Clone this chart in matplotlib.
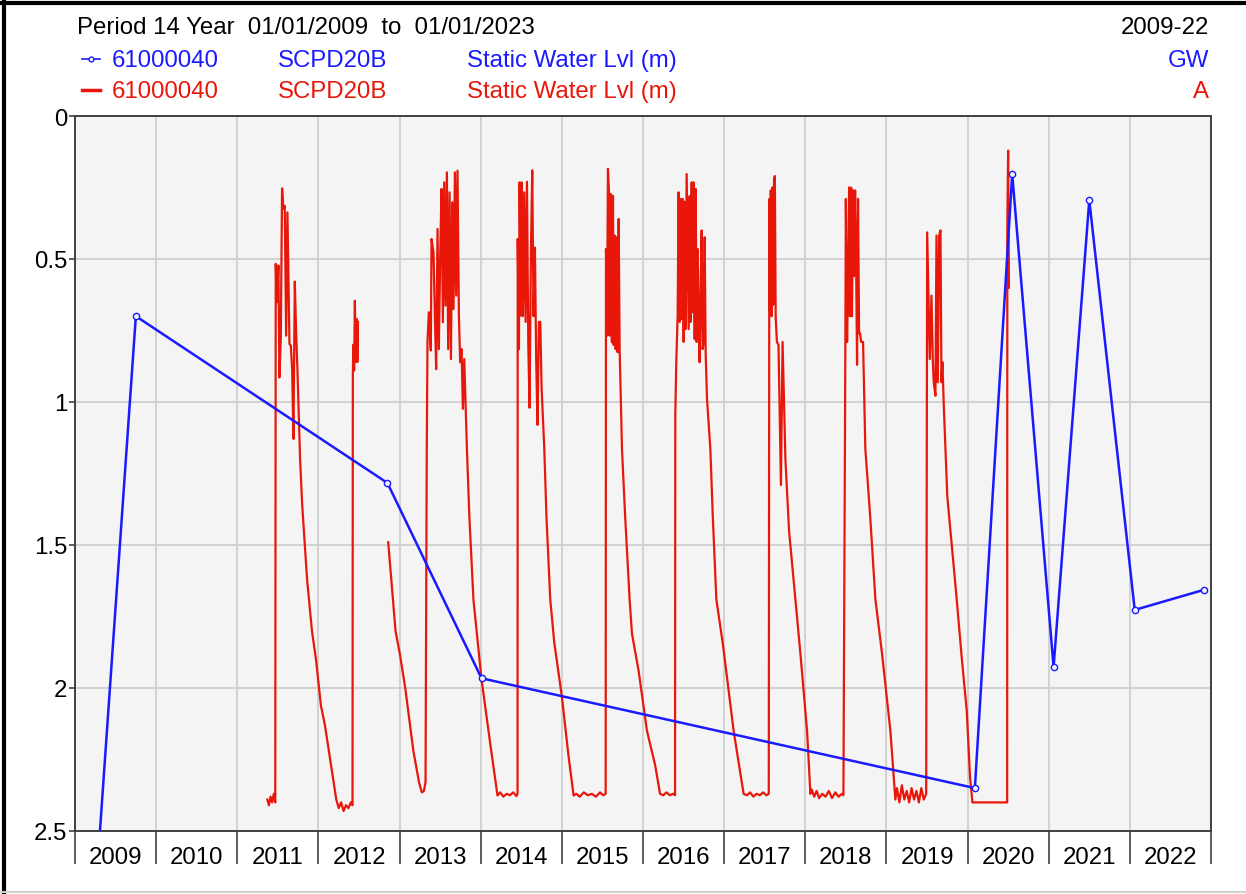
import numpy as np
import matplotlib.pyplot as plt
from matplotlib.lines import Line2D

plt.rcParams['font.family'] = ['Liberation Sans', 'DejaVu Sans']

#%% data (decimal year, depth below ground in m)
# manual readings - blue series
blue_t = [2009.278, 2009.75, 2012.85, 2014.01, 2020.09, 2020.55, 2021.06, 2021.50, 2022.06, 2022.91]
blue_v = [2.62, 0.70, 1.283, 1.966, 2.35, 0.203, 1.927, 0.294, 1.727, 1.657]

# logger - red series, one list per season
red_2011 = [(2011.37, 2.39), (2011.39, 2.41), (2011.41, 2.38), (2011.43, 2.40), (2011.45, 2.37), (2011.468, 2.40),
            (2011.474, 0.517), (2011.487, 0.651), (2011.507, 0.523), (2011.519, 0.914), (2011.536, 0.78),
            (2011.552, 0.253), (2011.568, 0.325), (2011.585, 0.314), (2011.602, 0.768), (2011.618, 0.337),
            (2011.643, 0.797), (2011.66, 0.803), (2011.676, 0.885), (2011.692, 1.129), (2011.709, 0.579),
            (2011.725, 0.756), (2011.741, 0.885), (2011.774, 1.20),
            (2011.80, 1.36), (2011.86, 1.62), (2011.92, 1.80), (2011.97, 1.90), (2012.03, 2.06), (2012.08, 2.13),
            (2012.15, 2.26), (2012.22, 2.39), (2012.25, 2.42), (2012.28, 2.40), (2012.31, 2.43), (2012.34, 2.41),
            (2012.37, 2.42), (2012.40, 2.40), (2012.42, 2.41),
            (2012.424, 0.908), (2012.43, 0.80), (2012.44, 0.89), (2012.449, 0.646), (2012.46, 0.86),
            (2012.473, 0.71), (2012.48, 0.86), (2012.487, 0.72)]

red_2013 = [(2012.86, 1.49), (2012.91, 1.66), (2012.95, 1.80), (2013.007, 1.887), (2013.07, 2.0), (2013.17, 2.22),
            (2013.24, 2.33), (2013.274, 2.365), (2013.30, 2.36), (2013.32, 2.33), (2013.335, 1.17),
            (2013.344, 0.791), (2013.361, 0.686), (2013.385, 0.82), (2013.394, 0.43), (2013.418, 0.477),
            (2013.435, 0.698), (2013.451, 0.885), (2013.468, 0.395), (2013.484, 0.815), (2013.50, 0.50),
            (2013.517, 0.255), (2013.534, 0.721), (2013.55, 0.232), (2013.566, 0.663), (2013.583, 0.197),
            (2013.599, 0.815), (2013.616, 0.267), (2013.633, 0.85), (2013.649, 0.302), (2013.665, 0.675),
            (2013.682, 0.197), (2013.698, 0.628), (2013.714, 0.191), (2013.731, 0.698), (2013.747, 0.861),
            (2013.764, 0.815), (2013.78, 1.024), (2013.797, 0.85), (2013.83, 1.164),
            (2013.86, 1.40), (2013.91, 1.69), (2014.01, 1.97), (2014.12, 2.20), (2014.207, 2.376),
            (2014.24, 2.365), (2014.28, 2.38), (2014.32, 2.37), (2014.36, 2.375), (2014.40, 2.365),
            (2014.44, 2.378), (2014.454, 2.37)]

red_2014 = [(2014.456, 0.43), (2014.471, 0.815), (2014.479, 0.232), (2014.495, 0.698), (2014.504, 0.232),
            (2014.52, 0.70), (2014.536, 0.267), (2014.553, 0.72), (2014.57, 0.23), (2014.586, 0.79),
            (2014.602, 1.02), (2014.619, 0.465), (2014.635, 0.19), (2014.651, 0.70), (2014.668, 0.46),
            (2014.684, 0.86), (2014.70, 1.08), (2014.717, 0.72), (2014.734, 0.72), (2014.75, 0.95), (2014.783, 1.16),
            (2014.81, 1.40), (2014.857, 1.69), (2014.906, 1.84), (2015.0, 2.03), (2015.083, 2.24), (2015.145, 2.376),
            (2015.18, 2.37), (2015.22, 2.38), (2015.27, 2.365), (2015.32, 2.375), (2015.37, 2.37), (2015.42, 2.38),
            (2015.47, 2.365), (2015.51, 2.375), (2015.54, 2.37)]

red_2015 = [(2015.544, 0.465), (2015.556, 0.768), (2015.568, 0.185), (2015.581, 0.267), (2015.589, 0.768),
            (2015.605, 0.273), (2015.617, 0.791), (2015.63, 0.279), (2015.638, 0.80), (2015.65, 0.418),
            (2015.663, 0.815), (2015.675, 0.424), (2015.687, 0.826), (2015.70, 0.36), (2015.712, 0.815),
            (2015.741, 1.164),
            (2015.78, 1.40), (2015.835, 1.69), (2015.864, 1.81), (2015.946, 1.94), (2016.049, 2.15), (2016.15, 2.27),
            (2016.21, 2.37), (2016.25, 2.375), (2016.29, 2.365), (2016.33, 2.375), (2016.37, 2.37), (2016.395, 2.375)]

red_2016 = [(2016.398, 1.048), (2016.41, 0.861), (2016.427, 0.698), (2016.439, 0.267), (2016.452, 0.72),
            (2016.464, 0.29), (2016.476, 0.71), (2016.489, 0.29), (2016.501, 0.79), (2016.513, 0.30),
            (2016.526, 0.745), (2016.538, 0.203), (2016.55, 0.465), (2016.563, 0.745), (2016.575, 0.28),
            (2016.587, 0.72), (2016.60, 0.232), (2016.612, 0.686), (2016.624, 0.232), (2016.637, 0.78),
            (2016.649, 0.255), (2016.661, 0.79), (2016.674, 0.465), (2016.686, 0.698), (2016.698, 0.861),
            (2016.711, 0.605), (2016.723, 0.40), (2016.735, 0.815), (2016.748, 0.79), (2016.76, 0.424),
            (2016.772, 0.826), (2016.789, 0.99), (2016.83, 1.164),
            (2016.86, 1.40), (2016.904, 1.69), (2016.986, 1.85), (2017.117, 2.15), (2017.24, 2.37),
            (2017.28, 2.375), (2017.32, 2.365), (2017.36, 2.38), (2017.40, 2.37), (2017.44, 2.375),
            (2017.48, 2.365), (2017.52, 2.375), (2017.55, 2.37)]

red_2017 = [(2017.557, 0.29), (2017.565, 0.68), (2017.575, 0.26), (2017.585, 0.70), (2017.595, 0.25),
            (2017.605, 0.66), (2017.615, 0.22), (2017.625, 0.21), (2017.635, 0.70), (2017.65, 0.79),
            (2017.67, 0.80), (2017.70, 1.29), (2017.72, 0.79), (2017.755, 1.20),
            (2017.80, 1.45), (2017.878, 1.69), (2017.94, 1.88), (2018.022, 2.15), (2018.063, 2.37),
            (2018.08, 2.355), (2018.11, 2.38), (2018.14, 2.36), (2018.17, 2.385), (2018.21, 2.37), (2018.25, 2.38),
            (2018.29, 2.36), (2018.33, 2.385), (2018.37, 2.365), (2018.41, 2.38), (2018.45, 2.37), (2018.47, 2.375)]

red_2018 = [(2018.494, 0.79), (2018.50, 0.29), (2018.515, 0.79), (2018.53, 0.53), (2018.54, 0.25),
            (2018.55, 0.70), (2018.565, 0.25), (2018.575, 0.70), (2018.589, 0.26), (2018.60, 0.56),
            (2018.614, 0.26), (2018.625, 0.465), (2018.638, 0.87), (2018.65, 0.29), (2018.663, 0.76),
            (2018.675, 0.76), (2018.688, 0.79), (2018.712, 0.79), (2018.74, 1.164),
            (2018.80, 1.40), (2018.864, 1.69), (2018.946, 1.88), (2019.049, 2.15), (2019.11, 2.39),
            (2019.13, 2.35), (2019.16, 2.40), (2019.19, 2.34), (2019.22, 2.39), (2019.25, 2.36), (2019.28, 2.40),
            (2019.31, 2.35), (2019.34, 2.39), (2019.37, 2.36), (2019.40, 2.40), (2019.43, 2.35), (2019.46, 2.39),
            (2019.49, 2.37)]

red_2019 = [(2019.502, 0.407), (2019.534, 0.85), (2019.555, 0.628), (2019.571, 0.85), (2019.583, 0.931),
            (2019.604, 0.978), (2019.617, 0.418), (2019.633, 0.931), (2019.65, 0.418), (2019.666, 0.40),
            (2019.678, 0.931), (2019.69, 0.861), (2019.707, 1.013), (2019.727, 1.164),
            (2019.75, 1.33), (2019.86, 1.67), (2019.93, 1.90), (2019.99, 2.08), (2020.03, 2.31), (2020.06, 2.40),
            (2020.488, 2.40), (2020.49, 0.383), (2020.50, 0.121), (2020.51, 0.60)]

years = list(range(2009, 2023))
yticks = [0, 0.5, 1, 1.5, 2, 2.5]
ytick_labels = ['0', '0.5', '1', '1.5', '2', '2.5']

#%% figure
W, H = 1246, 895
fig = plt.figure(figsize=(W / 100, H / 100), dpi=100)
ax = fig.add_axes([75 / W, 1 - 832 / H, (1211 - 75) / W, (832 - 117) / H])
ax.set_facecolor('#f4f4f4')

blue = '#1a1aff'
red = '#e8170a'

red_pts = red_2011 + [(np.nan, np.nan)] + red_2013 + red_2014 + red_2015 + red_2016 + red_2017 + red_2018 + red_2019
red_t, red_v = np.array(red_pts).T
ax.plot(red_t, red_v, color=red, lw=1.6, zorder=3)
ax.plot(blue_t, blue_v, color=blue, lw=1.8, marker='o', ms=4.5, mfc='#f4f4f4', mec=blue, mew=1.0, zorder=4)

ax.set_xlim(2009, 2023)
ax.set_ylim(2.5, 0)

# year separators + centred labels
ax.set_xticks(years + [2023])
ax.set_xticklabels([])
ax.set_xticks([y + 0.5 for y in years], minor=True)
ax.set_xticklabels([str(y) for y in years], minor=True, fontsize=17.3)
ax.tick_params(axis='x', which='major', length=24, width=1.2, color='#404040', direction='out')
ax.tick_params(axis='x', which='minor', length=0, pad=11)

ax.set_yticks(yticks)
ax.set_yticklabels(ytick_labels, fontsize=17.3)
ax.tick_params(axis='y', length=4.5, width=1.2, color='#404040', pad=1)

ax.grid(True, which='major', color='#cccccc', lw=1.2)
ax.set_axisbelow(True)
for s in ax.spines.values():
    s.set_color('#404040')
    s.set_linewidth(1.4)

#%% header / legend
fs = 17.3
def fx(px):
    return px / W
def fy(px):
    return 1 - px / H

fig.text(fx(77), fy(34), 'Period 14 Year  01/01/2009  to  01/01/2023', fontsize=fs, va='baseline')
fig.text(fx(1209), fy(34), '2009-22', fontsize=fs, va='baseline', ha='right')

rows = [(67, blue, 'GW'), (98, red, 'A')]
for yb, c, code in rows:
    fig.text(fx(112), fy(yb), '61000040', color=c, fontsize=fs, va='baseline')
    fig.text(fx(278), fy(yb), 'SCPD20B', color=c, fontsize=fs, va='baseline')
    fig.text(fx(467), fy(yb), 'Static Water Lvl (m)', color=c, fontsize=fs, va='baseline')
    fig.text(fx(1209), fy(yb), code, color=c, fontsize=fs, va='baseline', ha='right')

fig.add_artist(Line2D([fx(82), fx(100)], [fy(60), fy(60)], color=blue, lw=1.2))
fig.add_artist(Line2D([fx(91)], [fy(60)], color=blue, marker='o', ms=3.5, mfc='white', mec=blue, mew=1))
fig.add_artist(Line2D([fx(82), fx(100)], [fy(91), fy(91)], color=red, lw=2.5))

# outer frame
fig.add_artist(Line2D([0, 1], [fy(4), fy(4)], color='black', lw=3))
fig.add_artist(Line2D([fx(4), fx(4)], [0, 1], color='black', lw=3))
fig.add_artist(Line2D([0, 1], [fy(893), fy(893)], color='#d0d0d0', lw=1.5))

plt.savefig('out.png', dpi=100)
